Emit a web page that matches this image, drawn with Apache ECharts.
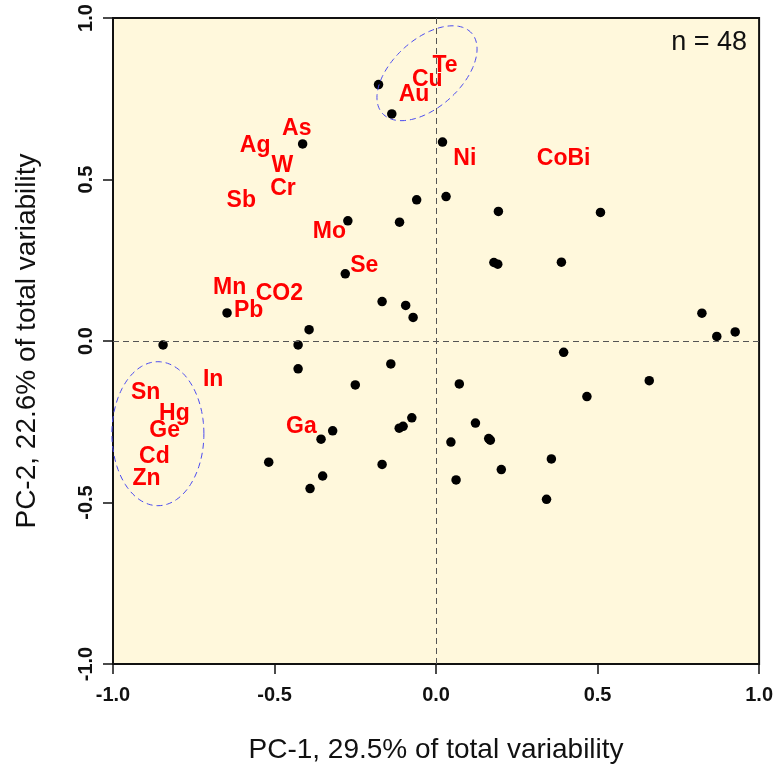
<!DOCTYPE html>
<html>
<head>
<meta charset="utf-8">
<script src="https://cdn.jsdelivr.net/npm/echarts@6/dist/echarts.min.js"></script>
<style>
  html, body { margin: 0; padding: 0; background: #ffffff; }
  #chart { width: 776px; height: 769px; }
</style>
</head>
<body>
<div id="chart"></div>
<script>
// PCA biplot: sample scores (black dots) and variable loadings (red labels)
const pc1Scores = [
  -0.178, -0.137, -0.413, -0.060, -0.273, -0.113, 0.020, 0.031, 0.193, 0.509,
  0.179, 0.191, 0.388, 0.823, 0.869, 0.926, 0.395, 0.072, 0.660, 0.467,
  0.122, 0.046, 0.163, 0.168, 0.357, 0.202, 0.062, 0.342, -0.281, -0.647,
  -0.167, -0.094, -0.071, -0.393, -0.845, -0.427, -0.427, -0.140, -0.250, -0.075,
  -0.114, -0.102, -0.320, -0.356, -0.518, -0.167, -0.351, -0.390
];
const pc2Scores = [
  0.794, 0.703, 0.610, 0.437, 0.372, 0.368, 0.616, 0.447, 0.401, 0.398,
  0.243, 0.238, 0.244, 0.086, 0.014, 0.028, -0.035, -0.133, -0.123, -0.172,
  -0.254, -0.313, -0.302, -0.307, -0.365, -0.398, -0.430, -0.490, 0.208, 0.087,
  0.122, 0.110, 0.073, 0.035, -0.012, -0.012, -0.086, -0.071, -0.136, -0.238,
  -0.270, -0.264, -0.278, -0.304, -0.375, -0.382, -0.418, -0.457
];

const variableNames = [
  'Te', 'Cu', 'Au', 'As', 'Ag', 'W', 'Cr', 'Sb', 'Mo', 'Ni', 'CoBi',
  'Se', 'Mn', 'CO2', 'Pb', 'In', 'Sn', 'Hg', 'Ge', 'Cd', 'Zn', 'Ga'
];
const pc1Loadings = [
  0.028, -0.027, -0.068, -0.431, -0.560, -0.476, -0.474, -0.603, -0.330, 0.089, 0.395,
  -0.222, -0.639, -0.485, -0.580, -0.690, -0.899, -0.810, -0.840, -0.872, -0.896, -0.417
];
const pc2Loadings = [
  0.860, 0.814, 0.768, 0.664, 0.612, 0.548, 0.477, 0.441, 0.346, 0.572, 0.570,
  0.238, 0.171, 0.154, 0.099, -0.112, -0.153, -0.218, -0.272, -0.352, -0.421, -0.258
];

const axisMin = -1.0;
const axisMax = 1.0;
const axisStep = 0.5;
const sampleCount = 48;
const xTitle = 'PC-1, 29.5% of total variability';
const yTitle = 'PC-2, 22.6% of total variability';

// Dashed outlines around the two element groups (centre in data units, radii in px)
const groupOutlines = [
  { centre: [-0.028, 0.829], rx: 60, ry: 34, angle: 42 },
  { centre: [-0.861, -0.287], rx: 46, ry: 72, angle: 0 }
];

const FONT = '"Liberation Sans", Arial, Helvetica, sans-serif';

const chart = echarts.init(document.getElementById('chart'), null, { renderer: 'canvas' });

const scorePoints = pc1Scores.map((x, i) => [x, pc2Scores[i]]);
const loadingPoints = variableNames.map((n, i) => ({ name: n, value: [pc1Loadings[i], pc2Loadings[i]] }));

function axisCommon() {
  return {
    type: 'value',
    min: axisMin,
    max: axisMax,
    interval: axisStep,
    axisLine: { show: true, onZero: false, lineStyle: { color: '#111', width: 2 } },
    axisTick: { show: true, inside: false, length: 10, lineStyle: { color: '#111', width: 1.5 } },
    splitLine: { show: false },
    nameLocation: 'middle',
    nameTextStyle: { fontFamily: FONT, fontSize: 28, color: '#111' }
  };
}

const option = {
  animation: false,
  backgroundColor: '#ffffff',
  grid: {
    left: 113, right: 15, top: 18, bottom: 103,
    show: true,
    backgroundColor: '#FFF8DC',
    borderColor: '#111',
    borderWidth: 2
  },
  xAxis: Object.assign(axisCommon(), {
    name: xTitle,
    nameGap: 72,
    axisLabel: {
      margin: 21,
      fontFamily: FONT, fontSize: 20, fontWeight: 'bold', color: '#111',
      formatter: v => v.toFixed(1)
    }
  }),
  yAxis: Object.assign(axisCommon(), {
    name: yTitle,
    nameGap: 72,
    axisLabel: {
      margin: 17,
      rotate: 90,
      fontFamily: FONT, fontSize: 20, fontWeight: 'bold', color: '#111',
      formatter: v => v.toFixed(1)
    }
  }),
  series: [
    {
      name: 'scores',
      type: 'scatter',
      data: scorePoints,
      symbol: 'circle',
      symbolSize: 9.5,
      itemStyle: { color: '#000000', opacity: 1 },
      silent: true,
      z: 3,
      markLine: {
        silent: true,
        symbol: 'none',
        label: { show: false },
        lineStyle: { color: '#555', type: [6, 4], width: 1, opacity: 1 },
        data: [{ xAxis: 0 }, { yAxis: 0 }]
      }
    },
    {
      name: 'loadings',
      type: 'scatter',
      data: loadingPoints,
      symbolSize: 0,
      silent: true,
      z: 4,
      itemStyle: { opacity: 1 },
      label: {
        show: true,
        position: 'inside',
        offset: [0, 2],
        formatter: p => p.name,
        fontFamily: FONT,
        fontSize: 23,
        fontWeight: 'bold',
        color: '#FF0000',
        opacity: 1
      }
    }
  ]
};

chart.setOption(option);

function outlinePolygon(o) {
  const c = chart.convertToPixel({ gridIndex: 0 }, o.centre);
  const a = o.angle * Math.PI / 180;
  const pts = [];
  const steps = 120;
  for (let i = 0; i < steps; i++) {
    const t = 2 * Math.PI * i / steps;
    const x = o.rx * Math.cos(t);
    const y = o.ry * Math.sin(t);
    const u = x * Math.cos(a) - y * Math.sin(a);
    const v = x * Math.sin(a) + y * Math.cos(a);
    pts.push([c[0] + u, c[1] - v]);
  }
  return {
    type: 'polygon',
    silent: true,
    z: 10,
    shape: { points: pts },
    style: { fill: 'none', stroke: '#4B4BF0', lineWidth: 1, lineDash: [6, 4] }
  };
}

const gridRect = chart.getModel().getComponent('grid').coordinateSystem.getRect();

chart.setOption({
  graphic: [
    ...groupOutlines.map(outlinePolygon),
    {
      type: 'text',
      silent: true,
      z: 10,
      x: gridRect.x + gridRect.width - 12,
      y: gridRect.y + 25,
      style: {
        text: 'n = ' + sampleCount,
        fontFamily: FONT,
        fontSize: 27,
        fill: '#111',
        align: 'right',
        verticalAlign: 'middle'
      }
    }
  ]
});
</script>
</body>
</html>
